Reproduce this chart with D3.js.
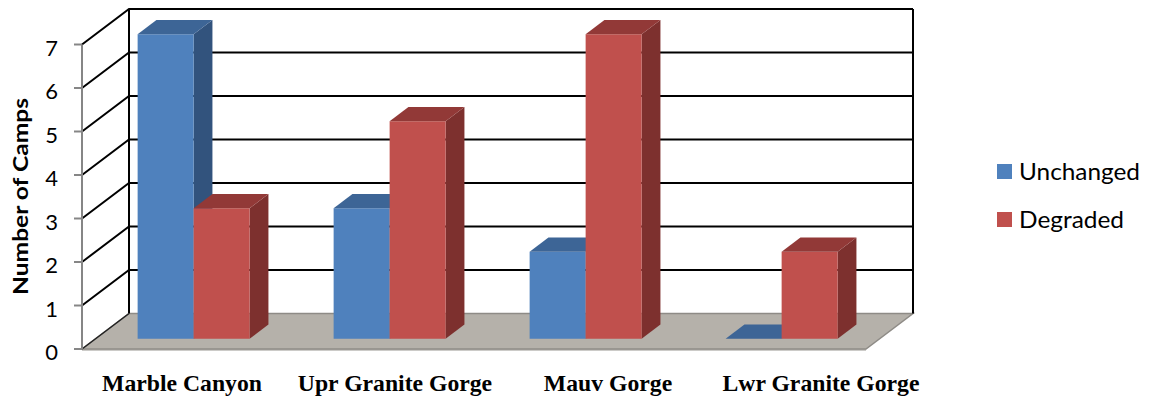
<!DOCTYPE html>
<html>
<head>
<meta charset="utf-8">
<script src="https://cdn.jsdelivr.net/npm/d3@7"></script>
<style>
  html, body { margin: 0; padding: 0; background: #fff; }
  svg { display: block; }
</style>
</head>
<body>
<svg id="chart" width="1149" height="400"></svg>
<script>
const categories = ["Marble Canyon", "Upr Granite Gorge", "Mauv Gorge", "Lwr Granite Gorge"];
const seriesNames = ["Unchanged", "Degraded"];
const unchanged = [7, 3, 2, 0];
const degraded = [3, 5, 7, 2];
const yTicks = [0, 1, 2, 3, 4, 5, 6, 7];
const yTitle = "Number of Camps";

const svg = d3.select("#chart");
svg.append("rect").attr("width", 1149).attr("height", 400).attr("fill", "#fff");

// 3D geometry
const xLeft = 82, xRight = 866;
const DX = 47, DY = 35.5;       // depth offset (front -> back)
const f0 = 0.29, f1 = 0.69;     // bar depth span
const y = d3.scaleLinear().domain([0, 7]).range([349, 44.5]);
const x = d3.scaleBand().domain(categories).range([xLeft, xRight])
  .paddingInner(84 / 196).paddingOuter(42 / 196);
const xs = d3.scaleBand().domain(seriesNames).range([0, x.bandwidth()]);
const P = (px, v, d) => [px + d * DX, y(v) - d * DY];
const poly = pts => pts.map(p => p.join(",")).join(" ");

const colors = {
  Unchanged: { front: "#4F81BD", side: "#32537D", top: "#3D6596" },
  Degraded:  { front: "#C0504D", side: "#7D302E", top: "#923937" }
};

// floor
svg.append("polygon")
  .attr("points", poly([P(xLeft, 0, 0), P(xRight, 0, 0), P(xRight, 0, 1), P(xLeft, 0, 1)]))
  .attr("fill", "#B5B1AA").attr("stroke", "#8E8B86").attr("stroke-width", 1.5);
svg.append("line")
  .attr("x1", P(xLeft, 0, 0)[0]).attr("y1", y(0) + 0.5)
  .attr("x2", P(xRight, 0, 0)[0]).attr("y2", y(0) + 0.5)
  .attr("stroke", "#9A9792").attr("stroke-width", 2);

// gridlines: left wall + back wall
const grid = svg.append("g").attr("stroke", "#000").attr("stroke-width", 2).attr("fill", "none");
yTicks.filter(v => v > 0).forEach(v => {
  const a = P(xLeft, v, 0), b = P(xLeft, v, 1), c = P(xRight, v, 1);
  grid.append("polyline").attr("points", poly([a, b, c]));
});
[xLeft, xRight].forEach(px => {
  const a = P(px, 0, 1), b = P(px, d3.max(yTicks), 1);
  grid.append("line").attr("x1", a[0]).attr("y1", a[1]).attr("x2", b[0]).attr("y2", b[1]);
});
{
  const a = P(xLeft, 0, 0), b = P(xLeft, 0, 1);
  svg.append("line").attr("x1", a[0]).attr("y1", a[1]).attr("x2", b[0]).attr("y2", b[1])
    .attr("stroke", "#222").attr("stroke-width", 1.5);
}

// front y axis
const axisG = svg.append("g");
axisG.append("line").attr("x1", xLeft).attr("x2", xLeft)
  .attr("y1", y(0)).attr("y2", y(7)).attr("stroke", "#868686").attr("stroke-width", 2);
yTicks.forEach(v => {
  axisG.append("line").attr("x1", xLeft - 8).attr("x2", xLeft)
    .attr("y1", y(v)).attr("y2", y(v)).attr("stroke", "#868686").attr("stroke-width", 2);
  axisG.append("text").attr("x", 58).attr("y", y(v) + 11)
    .attr("text-anchor", "end")
    .attr("font-family", "Lato, 'Liberation Sans', sans-serif")
    .attr("font-size", 22).attr("fill", "#000").text(v);
});

// axis title
svg.append("text")
  .attr("transform", "translate(28,196.5) rotate(-90)")
  .attr("text-anchor", "middle")
  .attr("font-family", "Lato, 'Liberation Sans', sans-serif")
  .attr("font-weight", "bold").attr("font-size", 21)
  .attr("textLength", 197).attr("lengthAdjust", "spacingAndGlyphs")
  .text(yTitle);

// bars
const data = categories.map((c, i) => ({ cat: c, vals: [unchanged[i], degraded[i]] }));
const barsG = svg.append("g");
data.forEach(d => {
  seriesNames.forEach((s, si) => {
    const v = d.vals[si];
    const xl = x(d.cat) + xs(s), w = xs.bandwidth();
    const col = colors[s];
    const g = barsG.append("g");
    if (v > 0) {
      g.append("polygon").attr("fill", col.side)
        .attr("points", poly([P(xl + w, 0, f0), P(xl + w, 0, f1), P(xl + w, v, f1), P(xl + w, v, f0)]));
      g.append("polygon").attr("fill", col.front)
        .attr("points", poly([P(xl, 0, f0), P(xl + w, 0, f0), P(xl + w, v, f0), P(xl, v, f0)]));
    }
    g.append("polygon").attr("fill", col.top)
      .attr("points", poly([P(xl, v, f0), P(xl + w, v, f0), P(xl + w, v, f1), P(xl, v, f1)]));
  });
});

// category labels
const xl = d3.scalePoint().domain(categories).range([182, 821]);
categories.forEach(c => {
  svg.append("text").attr("x", xl(c)).attr("y", 390.5)
    .attr("text-anchor", "middle")
    .attr("font-family", "'Liberation Serif', 'Times New Roman', serif")
    .attr("font-weight", "bold").attr("font-size", 23.7).attr("fill", "#000")
    .text(c);
});

// legend
const legY = d3.scalePoint().domain(seriesNames).range([164, 212]);
seriesNames.forEach(s => {
  svg.append("rect").attr("x", 997).attr("y", legY(s)).attr("width", 15).attr("height", 15)
    .attr("fill", colors[s].front);
  svg.append("text").attr("x", 1019).attr("y", legY(s) + 16)
    .attr("font-family", "Lato, 'Liberation Sans', sans-serif")
    .attr("font-size", 23).attr("fill", "#000")
    .attr("textLength", s === "Unchanged" ? 121 : 105).attr("lengthAdjust", "spacingAndGlyphs")
    .text(s);
});
</script>
</body>
</html>
